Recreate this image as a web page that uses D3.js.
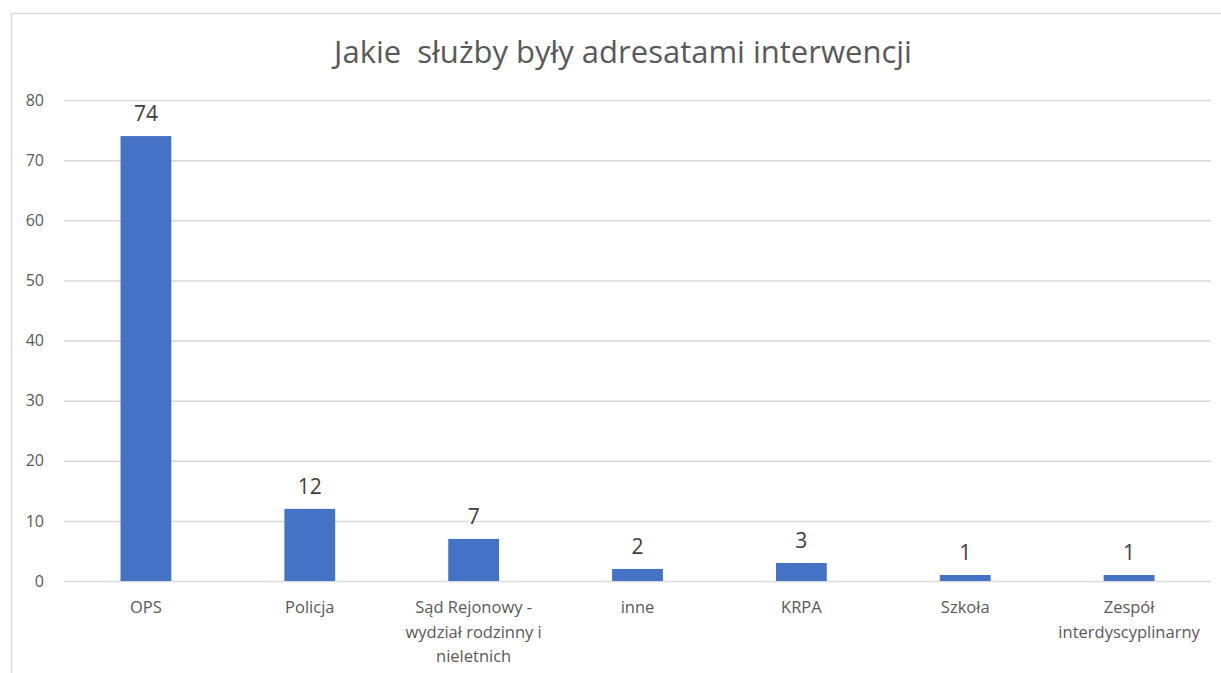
<!DOCTYPE html>
<html>
<head>
<meta charset="utf-8">
<script src="https://cdn.jsdelivr.net/npm/d3@7"></script>
<style>
  body { margin: 0; background: #fff; overflow: hidden; }
  svg { display: block; font-family: "Open Sans", "Noto Sans", sans-serif; }
</style>
</head>
<body>
<svg id="chart"></svg>
<script>
const title = 'Jakie  służby były adresatami interwencji';
const categories = [
  'OPS',
  'Policja',
  'Sąd Rejonowy -|wydział rodzinny i|nieletnich',
  'inne',
  'KRPA',
  'Szkoła',
  'Zespół|interdyscyplinarny'
];
const values = [74, 12, 7, 2, 3, 1, 1];
const yTicks = [0, 10, 20, 30, 40, 50, 60, 70, 80];

const width = 1221;
const height = 673;
const margin = { top: 100, right: 10, bottom: 92, left: 64 };
const innerWidth = width - margin.left - margin.right;
const innerHeight = height - margin.top - margin.bottom;
const font = '"Open Sans", "Noto Sans", sans-serif';

const svg = d3.select('#chart')
  .attr('width', width)
  .attr('height', height);

// outer chart border: only top and left edges are inside the picture
svg.append('path')
  .attr('d', `M11.5,${height} V13.5 H${width}`)
  .attr('fill', 'none')
  .attr('stroke', '#d9d9d9')
  .attr('stroke-width', 1.5);

svg.append('text')
  .attr('x', 623)
  .attr('y', 63)
  .attr('text-anchor', 'middle')
  .attr('font-size', '31px')
  .attr('fill', '#595959')
  .style('white-space', 'pre')
  .text(title);

const g = svg.append('g')
  .attr('transform', `translate(${margin.left},${margin.top})`);

// Scales
const x = d3.scaleBand()
  .domain(categories)
  .range([0, innerWidth])
  .paddingInner(0.69)
  .paddingOuter(0.345);

const y = d3.scaleLinear()
  .domain([0, 80])
  .range([innerHeight, 0]);

// Grid lines
g.append('g')
  .attr('class', 'grid')
  .call(d3.axisLeft(y).tickValues(yTicks).tickSize(-innerWidth).tickFormat(''))
  .call(s => s.select('.domain').remove())
  .call(s => s.selectAll('text').remove())
  .selectAll('line')
  .attr('stroke', '#d9d9d9')
  .attr('stroke-width', 1.5);

// Y axis labels
g.append('g')
  .call(d3.axisLeft(y).tickValues(yTicks).tickSize(0).tickPadding(20))
  .attr('font-family', font)
  .attr('font-size', 16)
  .call(s => s.select('.domain').remove())
  .selectAll('text')
  .attr('fill', '#595959');

// Bars
g.selectAll('.bar')
  .data(values)
  .enter()
  .append('rect')
  .attr('class', 'bar')
  .attr('x', (d, i) => x(categories[i]))
  .attr('width', x.bandwidth())
  .attr('y', d => y(d))
  .attr('height', d => innerHeight - y(d))
  .attr('fill', '#4472c4');

// Data labels
g.selectAll('.label')
  .data(values)
  .enter()
  .append('text')
  .attr('class', 'label')
  .attr('x', (d, i) => x(categories[i]) + x.bandwidth() / 2)
  .attr('y', d => y(d) - 15)
  .attr('text-anchor', 'middle')
  .attr('font-size', '21px')
  .attr('fill', '#404040')
  .text(d => d);

// X axis labels (multi-line)
const xAxis = g.append('g')
  .attr('transform', `translate(0,${innerHeight})`)
  .call(d3.axisBottom(x).tickSize(0).tickPadding(0).tickFormat(''))
  .attr('font-family', font)
  .attr('font-size', 16.5);
xAxis.select('.domain').remove();
xAxis.selectAll('.tick text').remove();
xAxis.selectAll('.tick line').remove();

xAxis.selectAll('.tick').each(function(d) {
  const t = d3.select(this).append('text')
    .attr('text-anchor', 'middle')
    .attr('fill', '#595959')
    .attr('y', 32);
  d.split('|').forEach((line, i) => {
    t.append('tspan')
      .attr('x', 0)
      .attr('dy', i === 0 ? 0 : 24.5)
      .text(line);
  });
});
</script>
</body>
</html>
